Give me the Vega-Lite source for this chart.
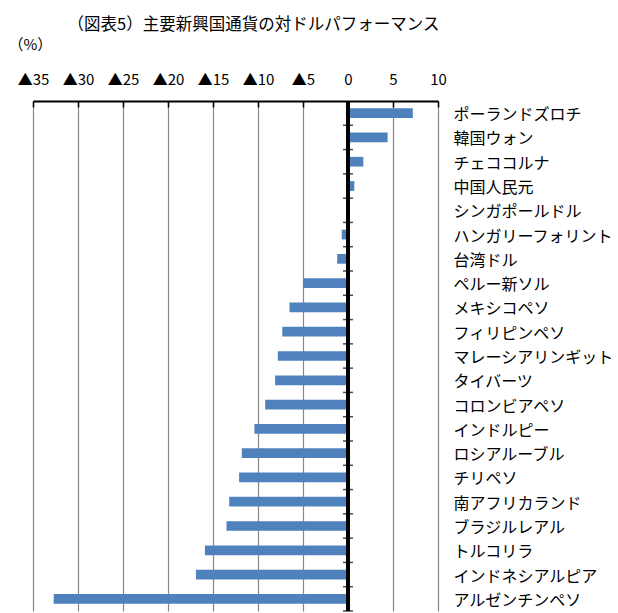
{
  "$schema": "https://vega.github.io/schema/vega-lite/v6.json",
  "autosize": "none",
  "padding": {"left": 33, "top": 101, "right": 180, "bottom": 2},
  "width": 405,
  "height": 510,
  "background": "white",
  "config": {"font": "Noto Sans CJK JP", "view": {"stroke": null}},
  "title": {
    "text": "（図表5）主要新興国通貨の対ドルパフォーマンス",
    "anchor": "middle",
    "dx": 18,
    "dy": 19,
    "offset": 10,
    "baseline": "alphabetic",
    "fontSize": 16.5,
    "fontWeight": "normal",
    "color": "black"
  },
  "data": {
    "values": [
      {"currency": "ポーランドズロチ", "value": 7.2},
      {"currency": "韓国ウォン", "value": 4.4},
      {"currency": "チェココルナ", "value": 1.7},
      {"currency": "中国人民元", "value": 0.7},
      {"currency": "シンガポールドル", "value": 0.0},
      {"currency": "ハンガリーフォリント", "value": -0.7},
      {"currency": "台湾ドル", "value": -1.2},
      {"currency": "ペルー新ソル", "value": -5.0},
      {"currency": "メキシコペソ", "value": -6.5},
      {"currency": "フィリピンペソ", "value": -7.3},
      {"currency": "マレーシアリンギット", "value": -7.8},
      {"currency": "タイバーツ", "value": -8.1},
      {"currency": "コロンビアペソ", "value": -9.2},
      {"currency": "インドルピー", "value": -10.4},
      {"currency": "ロシアルーブル", "value": -11.8},
      {"currency": "チリペソ", "value": -12.1},
      {"currency": "南アフリカランド", "value": -13.2},
      {"currency": "ブラジルレアル", "value": -13.5},
      {"currency": "トルコリラ", "value": -15.9},
      {"currency": "インドネシアルピア", "value": -16.9},
      {"currency": "アルゼンチンペソ", "value": -32.7}
    ]
  },
  "encoding": {
    "y": {
      "field": "currency",
      "type": "nominal",
      "sort": null,
      "scale": {"paddingInner": 0, "paddingOuter": 0},
      "axis": {
        "orient": "right",
        "title": null,
        "domain": false,
        "ticks": false,
        "grid": false,
        "labelPadding": 15,
        "labelAlign": "left",
        "labelFontSize": 16,
        "labelColor": "black",
        "labelOffset": 2,
        "labelLimit": 300
      }
    }
  },
  "layer": [
    {
      "mark": {"type": "bar", "color": "#4F81BD", "height": {"band": 0.4}},
      "encoding": {
        "x": {
          "field": "value",
          "type": "quantitative",
          "scale": {"domain": [-35, 10], "nice": false, "zero": false},
          "axis": {
            "orient": "top",
            "values": [-35, -30, -25, -20, -15, -10, -5, 0, 5, 10],
            "labelExpr": "datum.value < 0 ? '▲' + abs(datum.value) : datum.value",
            "labelFontSize": 15,
            "labelColor": "black",
            "labelPadding": 20,
            "labelOverlap": false,
            "labelFlush": false,
            "grid": true,
            "gridColor": "#888888",
            "gridWidth": 1.2,
            "domainColor": "black",
            "domainWidth": 2,
            "tickColor": "black",
            "tickWidth": 1.5,
            "tickSize": -6,
            "title": "（%）",
            "titleX": -25,
            "titleY": -52,
            "titleAlign": "left",
            "titleBaseline": "alphabetic",
            "titleFontSize": 15,
            "titleFontWeight": "normal",
            "titleColor": "black"
          }
        }
      }
    },
    {
      "mark": {"type": "tick", "orient": "horizontal", "color": "black", "size": 10, "thickness": 1.5, "yOffset": 12.14},
      "encoding": {
        "x": {"datum": 0, "type": "quantitative"}
      }
    },
    {
      "mark": {"type": "rule", "color": "black", "strokeWidth": 2.5},
      "encoding": {"x": {"datum": 0, "type": "quantitative"}, "y": {"value": 0}, "y2": {"value": 510}}
    }
  ]
}
